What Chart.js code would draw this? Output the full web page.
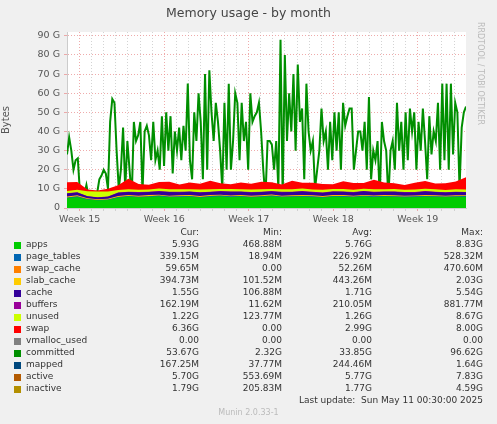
<!DOCTYPE html>
<html><head><meta charset="utf-8">
<script src="https://cdn.jsdelivr.net/npm/chart.js@4"></script>
<style>
body{margin:0;background:#f0f0f0;font-family:"DejaVu Sans";color:#333;}
#wrap{position:relative;width:497px;height:424px;}
#c{position:absolute;left:0;top:0;}
.t{position:absolute;font-size:9px;white-space:pre;}
.sq{position:absolute;width:7px;height:7px;}
</style></head>
<body><div id="wrap">
<canvas id="c" width="497" height="232"></canvas>
<div class="t" style="left:0;width:497px;text-align:center;top:5px;font-size:12.5px;color:#444">Memory usage - by month</div>
<div class="t" style="left:485px;top:22px;transform-origin:0 0;transform:rotate(90deg);font-size:8px;color:#bbb">RRDTOOL / TOBI OETIKER</div>
</div>
<script>
const xMin = 14.85, xMax = 19.57;
const weekTicks = ['Week 15', 'Week 16', 'Week 17', 'Week 18', 'Week 19'];

const apps = [5.2,5.8,4.5,4.0,4.2,5.5,6.0,5.6,5.9,6.1,5.7,5.8,6.0,5.5,5.9,6.2,5.8,6.0,5.6,5.9,6.1,5.7,5.9,6.0,5.8,5.5,6.0,5.9,5.7,6.1,5.8,6.0,5.9,5.6,5.8,6.0,5.9,5.7,5.9,5.9];
const pageTables = [0.3,0.3,0.2,0.2,0.2,0.3,0.3,0.3,0.3,0.4,0.3,0.3,0.3,0.3,0.4,0.3,0.3,0.3,0.3,0.3,0.4,0.3,0.3,0.3,0.3,0.3,0.3,0.4,0.3,0.3,0.3,0.3,0.3,0.4,0.3,0.3,0.3,0.3,0.3,0.34];
const swapCache = [0.05,0.05,0.1,0.1,0.1,0.05,0.05,0.05,0.05,0.05,0.05,0.05,0.05,0.05,0.05,0.05,0.05,0.05,0.05,0.05,0.05,0.05,0.05,0.05,0.05,0.05,0.05,0.05,0.05,0.05,0.05,0.05,0.05,0.05,0.05,0.05,0.05,0.05,0.05,0.06];
const slabCache = [0.4,0.5,0.3,0.3,0.3,0.4,0.5,0.4,0.5,0.4,0.4,0.5,0.4,0.4,0.5,0.4,0.4,0.5,0.4,0.4,0.5,0.4,0.4,0.4,0.5,0.4,0.4,0.5,0.4,0.4,0.4,0.5,0.4,0.4,0.4,0.5,0.4,0.4,0.4,0.39];
const cache = [1.6,1.4,1.0,0.9,1.1,1.7,1.5,1.8,1.6,1.7,1.9,1.6,1.7,1.8,1.5,1.7,1.9,1.6,1.8,1.7,1.6,1.8,1.7,1.9,1.6,1.7,1.8,1.6,1.7,1.9,1.7,1.6,1.8,1.7,1.6,1.8,1.7,1.6,1.7,1.55];
const buffers = [0.2,0.2,0.1,0.1,0.1,0.2,0.2,0.2,0.2,0.2,0.2,0.2,0.2,0.2,0.2,0.2,0.2,0.2,0.2,0.2,0.2,0.2,0.2,0.2,0.2,0.2,0.2,0.2,0.2,0.2,0.2,0.2,0.2,0.2,0.2,0.2,0.2,0.2,0.2,0.16];
const unused = [1.2,1.3,2.5,3.0,2.6,1.2,1.3,1.2,1.1,1.3,1.2,1.3,1.2,1.4,1.2,1.1,1.3,1.2,1.3,1.2,1.1,1.3,1.2,1.3,1.2,1.4,1.2,1.3,1.2,1.1,1.3,1.2,1.3,1.2,1.3,1.2,1.3,1.2,1.3,1.22];
const swap = [4.5,4.0,1.0,0.5,1.5,2.5,5.5,3.0,2.5,3.5,4.0,2.5,3.5,3.0,4.5,3.0,2.5,3.5,3.0,4.0,3.5,2.5,4.5,3.0,3.5,3.0,2.5,4.0,3.5,3.0,5.0,3.5,3.0,2.5,3.5,4.0,3.0,3.5,4.0,6.4];
const committed = [28,37,30,20,25,26,8,6,7,12,6,6,7,5,8,15,17,20,18,10,45,57,55,30,10,20,42,10,35,20,5,45,35,38,45,8,40,43,38,25,45,25,30,20,48,22,50,30,48,18,40,30,42,25,43,30,65,25,15,50,35,60,45,15,70,20,72,50,35,55,45,30,10,55,20,65,20,35,60,55,25,55,35,45,20,60,45,48,50,55,40,20,5,35,35,33,20,35,10,88,5,80,35,60,40,70,30,75,45,52,15,65,40,30,35,10,20,30,52,35,40,20,45,25,50,30,50,20,55,43,48,52,52,20,30,40,40,30,45,20,58,15,30,25,35,5,45,35,30,5,30,35,20,55,30,45,20,50,25,52,40,50,20,45,30,52,35,15,48,28,40,35,55,20,65,25,65,20,65,28,55,50,10,42,50,53];
const mapped = [0.2,0.2,0.1,0.1,0.2,0.2,0.2,0.2,0.2,0.2,0.2,0.2,0.2,0.2,0.2,0.2,0.2,0.2,0.2,0.17];
const active = [5.5,4.0,3.5,5.0,6.0,5.5,6.2,5.8,6.0,5.6,6.1,5.7,5.9,6.0,5.5,6.1,5.8,5.9,6.0,5.7];
const inactive = [2.0,1.5,1.2,1.6,2.1,1.8,1.9,1.7,2.0,1.8,1.6,1.9,1.8,1.7,2.0,1.8,1.7,1.9,1.8,1.79];
const vmalloc = [0,0];

function pts(arr) {
  return arr.map((v, i) => ({x: xMin + i * (xMax - xMin) / (arr.length - 1), y: v}));
}
function area(label, arr, color) {
  return {label, data: pts(arr), stack: 'mem', fill: true, backgroundColor: color, borderColor: color, borderWidth: 0, pointRadius: 0, tension: 0};
}
function line(label, arr, color, w) {
  return {label, data: pts(arr), stack: label, fill: false, borderColor: color, borderWidth: w, pointRadius: 0, tension: 0};
}

const red = 'rgba(235,150,150,0.8)', grey = 'rgba(200,200,200,0.8)';
const isWeek = v => Math.abs(v - Math.round(v)) < 1e-6;

const whiteBg = {
  id: 'whiteBg',
  beforeDraw(chart) {
    const a = chart.chartArea, ctx = chart.ctx;
    ctx.save();
    ctx.fillStyle = '#fff';
    ctx.fillRect(a.left, a.top, a.right - a.left, a.bottom - a.top);
    ctx.restore();
  },
};

new Chart(document.getElementById('c'), {
  type: 'line',
  plugins: [whiteBg],
  data: {
    datasets: [
      area('apps', apps, '#00CC00'),
      area('page_tables', pageTables, '#0066B3'),
      area('swap_cache', swapCache, '#FF8000'),
      area('slab_cache', slabCache, '#FFCC00'),
      area('cache', cache, '#330099'),
      area('buffers', buffers, '#990099'),
      area('unused', unused, '#CCFF00'),
      area('swap', swap, '#FF0000'),
      line('vmalloc_used', vmalloc, '#808080', 1),
      line('mapped', mapped, '#00487D', 1.2),
      line('active', active, '#B35A00', 1.2),
      line('inactive', inactive, '#B38F00', 1.2),
      line('committed', committed, '#008F00', 2),
    ],
  },
  options: {
    responsive: false,
    animation: false,
    layout: {padding: {left: 0, right: 31, top: 32, bottom: 0}},
    plugins: {legend: {display: false}, tooltip: {enabled: false}},
    scales: {
      x: {
        type: 'linear', min: xMin, max: xMax,
        afterBuildTicks: s => {
          const t = [];
          for (let d = 0; d <= 7 * 6; d++) {
            const v = 14 + d / 7;
            if (v >= xMin && v <= xMax) t.push({value: v});
          }
          s.ticks = t;
        },
        afterFit: s => { s.height = 24; },
        ticks: {
          autoSkip: false, maxRotation: 0, color: '#555', font: {family: 'DejaVu Sans', size: 9.5},
          callback: v => isWeek(v) ? weekTicks[Math.round(v) - 15] : '',
        },
        grid: {color: c => isWeek(c.tick.value) ? red : grey, tickLength: 3},
        border: {color: '#ccc', dash: [1, 2]},
      },
      y: {
        stacked: true, min: 0, max: 92,
        afterBuildTicks: s => {
          const t = [];
          for (let v = 0; v <= 90; v += 5) t.push({value: v});
          s.ticks = t;
        },
        afterFit: s => { s.width = 67; },
        ticks: {
          color: '#555', font: {family: 'DejaVu Sans', size: 9.5}, padding: 4,
          callback: v => v % 10 !== 0 ? '' : (v === 0 ? '0' : v + ' G'),
        },
        grid: {color: c => c.tick.value % 10 === 0 ? red : grey, tickLength: 3},
        border: {color: '#ccc', dash: [1, 2]},
        title: {display: true, text: 'Bytes', color: '#555', font: {family: 'DejaVu Sans', size: 10}, padding: 0},
      },
    },
  },
});

const names = ['apps','page_tables','swap_cache','slab_cache','cache','buffers','unused','swap','vmalloc_used','committed','mapped','active','inactive'];
const colors = ['#00CC00','#0066B3','#FF8000','#FFCC00','#330099','#990099','#CCFF00','#FF0000','#808080','#008F00','#00487D','#B35A00','#B38F00'];
const curVals = ['5.93G','339.15M','59.65M','394.73M','1.55G','162.19M','1.22G','6.36G','0.00','53.67G','167.25M','5.70G','1.79G'];
const minVals = ['468.88M','18.94M','0.00','101.52M','106.88M','11.62M','123.77M','0.00','0.00','2.32G','37.77M','553.69M','205.83M'];
const avgVals = ['5.76G','226.92M','52.26M','443.26M','1.71G','210.05M','1.26G','2.99G','0.00','33.85G','244.46M','5.77G','1.77G'];
const maxVals = ['8.83G','528.32M','470.60M','2.03G','5.54G','881.77M','8.67G','8.00G','0.00','96.62G','1.64G','7.83G','4.59G'];

const wrap = document.getElementById('wrap');
function txt(s, left, top, right, extra) {
  const d = document.createElement('div');
  d.className = 't';
  d.textContent = s;
  d.style.top = top + 'px';
  if (right) { d.style.right = (497 - left) + 'px'; } else { d.style.left = left + 'px'; }
  if (extra) d.style.cssText += extra;
  wrap.appendChild(d);
}
txt('Cur:', 199, 227, true); txt('Min:', 282, 227, true); txt('Avg:', 372, 227, true); txt('Max:', 483, 227, true);
names.forEach((n, i) => {
  const y = 239 + i * 12;
  const sq = document.createElement('div');
  sq.className = 'sq'; sq.style.left = '14px'; sq.style.top = (y + 3) + 'px'; sq.style.background = colors[i];
  wrap.appendChild(sq);
  txt(n, 26, y);
  txt(curVals[i], 199, y, true); txt(minVals[i], 282, y, true); txt(avgVals[i], 372, y, true); txt(maxVals[i], 483, y, true);
});
txt('Last update:  Sun May 11 00:30:00 2025', 483, 395, true);
txt('Munin 2.0.33-1', 0, 408, false, 'width:497px;text-align:center;color:#bbb;font-size:8px');
</script>
</body></html>
